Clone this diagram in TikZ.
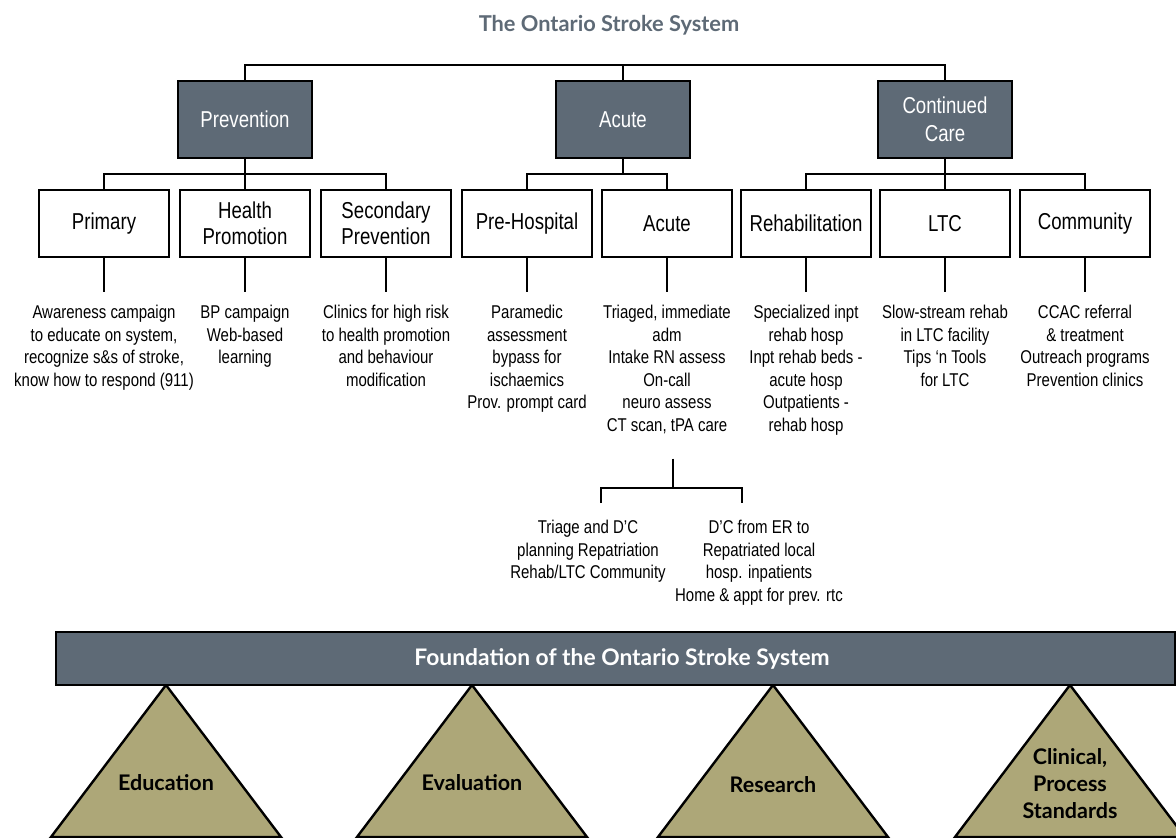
\documentclass[tikz,border=0pt]{standalone}
\usepackage{fontspec}
\setmainfont{Liberation Sans}[FakeStretch=0.81]
\newfontfamily\headfont{Lato}
\usepackage{tikz}
\usetikzlibrary{calc}

\definecolor{slate}{HTML}{5E6A76}
\definecolor{khaki}{HTML}{ADA778}

\begin{document}
\begin{tikzpicture}[x=1pt, y=-1pt, line width=2.4pt,
		head/.style={draw, fill=slate, text=white, minimum width=134, minimum height=77, align=center, font=\fontsize{23}{28}\selectfont},
		unit/.style={draw, fill=white, minimum width=130, minimum height=67, align=center, font=\fontsize{23}{26.5}\selectfont},
		note/.style={anchor=north, inner xsep=0, inner ysep=12, align=center, font=\fontsize{18.5}{22.5}\selectfont},
		pillar/.style={draw, fill=khaki, line join=miter},
		pillartext/.style={align=center, font=\headfont\bfseries\fontsize{21.5}{27}\selectfont}]
		\def\rowy{223.5}
		\def\notey{292}
		
		\useasboundingbox (0,0) rectangle (1176,838);
		\clip (0,0) rectangle (1176,838);
		
		\node [text=slate, font=\headfont\bfseries\fontsize{21.8}{25}\selectfont] (title) at (609,25) {The Ontario Stroke System};
		
		\node [head] (prev) at (245,119.5) {Prevention};
		\node [head] (acute) at (623,119.5) {Acute};
		\node [head] (cont) at (945,119.5) {Continued\\Care};
		
		\coordinate (top) at (623,65);
		\draw (prev.north) |- (top) -| (cont.north);
		\draw (acute.north) -- (top);
		
		\node [unit] (prim) at (104,\rowy) {Primary};
		\node [unit] (hp) at (245,\rowy) {Health\\Promotion};
		\node [unit] (sec) at (386,\rowy) {Secondary\\Prevention};
		\node [unit] (preh) at (527,\rowy) {Pre-Hospital};
		\node [unit] (acu) at (667,\rowy) {Acute};
		\node [unit] (rehab) at (806,\rowy) {Rehabilitation};
		\node [unit] (ltc) at (945,\rowy) {LTC};
		\node [unit] (comm) at (1085,\rowy) {Community};
		
		\coordinate (pbus) at (245,174);
		\coordinate (abus) at (623,174);
		\coordinate (cbus) at (945,174);
		\draw (prev.south) -- (hp.north);
		\draw (prim.north) |- (pbus) -| (sec.north);
		\draw (acute.south) -- (abus);
		\draw (preh.north) |- (abus) -| (acu.north);
		\draw (cont.south) -- (ltc.north);
		\draw (rehab.north) |- (cbus) -| (comm.north);
		
		\node [note] (primnote) at (104,\notey) {Awareness campaign\\to educate on system,\\recognize s\&s of stroke,\\know how to respond (911)};
		\node [note] (hpnote) at (245,\notey) {BP campaign\\Web-based\\learning};
		\node [note] (secnote) at (386,\notey) {Clinics for high risk\\to health promotion\\and behaviour\\modification};
		\node [note] (prehnote) at (527,\notey) {Paramedic\\assessment\\bypass for\\ischaemics\\Prov. prompt card};
		\node [note] (acunote) at (667,\notey) {Triaged, immediate\\adm\\Intake RN assess\\On-call\\neuro assess\\CT scan, tPA care};
		\node [note] (rehabnote) at (806,\notey) {Specialized inpt\\rehab hosp\\Inpt rehab beds -\\acute hosp\\Outpatients -\\rehab hosp};
		\node [note] (ltcnote) at (945,\notey) {Slow-stream rehab\\in LTC facility\\Tips ‘n Tools\\for LTC};
		\node [note] (commnote) at (1085,\notey) {CCAC referral\\\& treatment\\Outreach programs\\Prevention clinics};
		
		\draw (prim) -- (primnote);
		\draw (hp) -- (hpnote);
		\draw (sec) -- (secnote);
		\draw (preh) -- (prehnote);
		\draw (acu) -- (acunote);
		\draw (rehab) -- (rehabnote);
		\draw (ltc) -- (ltcnote);
		\draw (comm) -- (commnote);
		
		\coordinate (split) at (673,488);
		\coordinate (dropL) at (601,503);
		\coordinate (dropR) at (742,503);
		\draw [shorten <=12] (acunote.south -| split) -- (split);
		\draw (dropL) |- (split) -| (dropR);
		
		\node [note, inner ysep=0] (triage) at (588,519) {Triage and D’C\\planning Repatriation\\Rehab/LTC Community};
		\node [note, inner ysep=0] (dcer) at (759,519) {D’C from ER to\\Repatriated local\\hosp. inpatients\\Home \& appt for prev. rtc};
		
		\draw [pillar] (166,685) -- (281,837) -- (51,837) -- cycle;
		\draw [pillar] (472,685) -- (587,837) -- (357,837) -- cycle;
		\draw [pillar] (773,685) -- (888,837) -- (658,837) -- cycle;
		\draw [pillar] (1070,685) -- (1185,837) -- (955,837) -- cycle;
		
		\node [pillartext] (edu) at (166,783) {Education};
		\node [pillartext] (eval) at (472,783) {Evaluation};
		\node [pillartext] (res) at (773,785) {Research};
		\node [pillartext] (std) at (1070,784) {Clinical,\\Process\\Standards};
		
		\node [draw, fill=slate, minimum width=1119, minimum height=53] (base) at (615.5,658.5) {};
		\node [text=white, font=\headfont\bfseries\fontsize{22.8}{26}\selectfont] (basetext) at (622,659) {Foundation of the Ontario Stroke System};
	\end{tikzpicture}
\end{document}
